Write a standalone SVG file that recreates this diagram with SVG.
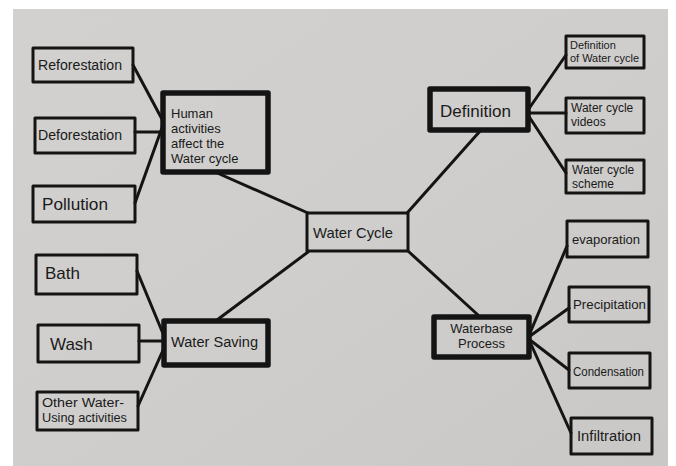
<svg xmlns="http://www.w3.org/2000/svg" width="676" height="466" viewBox="0 0 676 466">
<defs>
<linearGradient id="paper" x1="0" y1="0" x2="1" y2="1">
<stop offset="0" stop-color="#d2d1cf"/>
<stop offset="0.5" stop-color="#cfcecc"/>
<stop offset="1" stop-color="#c9c8c6"/>
</linearGradient>
<style>
.box{fill:none;stroke:#141414;stroke-width:3;stroke-linejoin:round}
.main{fill:none;stroke:#141414;stroke-width:5.5;stroke-linejoin:round}
.cx{stroke:#141414;stroke-width:3;stroke-linecap:round;fill:none}
text{font-family:"Liberation Sans",Arial,sans-serif;fill:#1a1a1a}
.t13{font-size:13px}
.t14{font-size:14px}
.t16{font-size:16px}
.t12{font-size:12px}
.t11{font-size:11px}
</style>
</defs>
<rect x="0" y="0" width="676" height="466" fill="#ffffff"/>
<rect x="13" y="9" width="655" height="457" fill="url(#paper)"/>

<g id="connectors">
<line class="cx" x1="133" y1="65" x2="163" y2="121"/>
<line class="cx" x1="135" y1="132" x2="163" y2="132"/>
<line class="cx" x1="135" y1="203" x2="163" y2="125"/>
<line class="cx" x1="215" y1="172" x2="308" y2="213"/>
<line class="cx" x1="408" y1="212" x2="481" y2="130"/>
<line class="cx" x1="528" y1="110" x2="566" y2="55"/>
<line class="cx" x1="528" y1="113" x2="566" y2="113"/>
<line class="cx" x1="528" y1="115" x2="566" y2="173"/>
<line class="cx" x1="308" y1="252" x2="217" y2="320"/>
<line class="cx" x1="408" y1="251" x2="478" y2="315"/>
<line class="cx" x1="530" y1="333" x2="567" y2="246"/>
<line class="cx" x1="530" y1="336" x2="569" y2="308"/>
<line class="cx" x1="530" y1="340" x2="569" y2="370"/>
<line class="cx" x1="530" y1="342" x2="571" y2="433"/>
<line class="cx" x1="137" y1="271" x2="164" y2="336"/>
<line class="cx" x1="139" y1="341" x2="164" y2="341"/>
<line class="cx" x1="138" y1="406" x2="164" y2="348"/>
</g>

<g id="water-cycle">
<rect class="box" x="307" y="213" width="101" height="38" stroke-width="4"/>
<text x="313" y="238" font-size="15" textLength="80" lengthAdjust="spacingAndGlyphs">Water Cycle</text>
</g>

<g id="human-activities">
<rect class="main" x="163" y="93" width="105" height="79"/>
<text class="t13" x="171" y="118">Human</text>
<text class="t13" x="171" y="133">activities</text>
<text class="t13" x="171" y="148">affect the</text>
<text class="t13" x="171" y="163">Water cycle</text>
</g>
<g id="reforestation">
<rect class="box" x="33" y="48" width="100" height="34"/>
<text class="t14" x="38" y="70" textLength="84" lengthAdjust="spacingAndGlyphs">Reforestation</text>
</g>
<g id="deforestation">
<rect class="box" x="35" y="118" width="100" height="35"/>
<text class="t14" x="38" y="140" textLength="84" lengthAdjust="spacingAndGlyphs">Deforestation</text>
</g>
<g id="pollution">
<rect class="box" x="33" y="186" width="102" height="36"/>
<text class="t16" x="42" y="210" textLength="66" lengthAdjust="spacingAndGlyphs">Pollution</text>
</g>

<g id="definition">
<rect class="main" x="430" y="89" width="98" height="41"/>
<text x="440" y="117" font-size="17" textLength="71" lengthAdjust="spacingAndGlyphs">Definition</text>
</g>
<g id="definition-of-water-cycle">
<rect class="box" x="566" y="36" width="78" height="32"/>
<text class="t11" x="570" y="49">Definition</text>
<text class="t11" x="570" y="62" textLength="69" lengthAdjust="spacingAndGlyphs">of Water cycle</text>
</g>
<g id="water-cycle-videos">
<rect class="box" x="566" y="98" width="78" height="35"/>
<text class="t12" x="571" y="112">Water cycle</text>
<text class="t12" x="571" y="126">videos</text>
</g>
<g id="water-cycle-scheme">
<rect class="box" x="566" y="160" width="78" height="33"/>
<text class="t12" x="572" y="174">Water cycle</text>
<text class="t12" x="572" y="188">scheme</text>
</g>

<g id="waterbase-process">
<rect class="main" x="434" y="317" width="95" height="40"/>
<text class="t13" x="481.500" y="333" text-anchor="middle">Waterbase</text>
<text class="t13" x="481.500" y="348" text-anchor="middle">Process</text>
</g>
<g id="evaporation">
<rect class="box" x="567" y="221" width="81" height="36"/>
<text class="t13" x="572" y="244" textLength="68" lengthAdjust="spacingAndGlyphs">evaporation</text>
</g>
<g id="precipitation">
<rect class="box" x="569" y="287" width="80" height="35"/>
<text class="t13" x="573" y="309" textLength="73" lengthAdjust="spacingAndGlyphs">Precipitation</text>
</g>
<g id="condensation">
<rect class="box" x="569" y="353" width="81" height="35"/>
<text class="t13" x="573" y="376" textLength="71" lengthAdjust="spacingAndGlyphs">Condensation</text>
</g>
<g id="infiltration">
<rect class="box" x="571" y="418" width="81" height="36"/>
<text class="t14" x="577" y="441" textLength="64" lengthAdjust="spacingAndGlyphs">Infiltration</text>
</g>

<g id="water-saving">
<rect class="main" x="164" y="321" width="104" height="44"/>
<text class="t14" x="171" y="347" textLength="87" lengthAdjust="spacingAndGlyphs">Water Saving</text>
</g>
<g id="bath">
<rect class="box" x="36" y="255" width="101" height="39"/>
<text x="45" y="279" font-size="17">Bath</text>
</g>
<g id="wash">
<rect class="box" x="38" y="325" width="101" height="37"/>
<text x="50" y="350" font-size="17">Wash</text>
</g>
<g id="other-water-using">
<rect class="box" x="37" y="392" width="101" height="38"/>
<text class="t12" x="42" y="407" textLength="82" lengthAdjust="spacingAndGlyphs">Other Water-</text>
<text class="t12" x="42" y="422" textLength="85" lengthAdjust="spacingAndGlyphs">Using activities</text>
</g>
</svg>
